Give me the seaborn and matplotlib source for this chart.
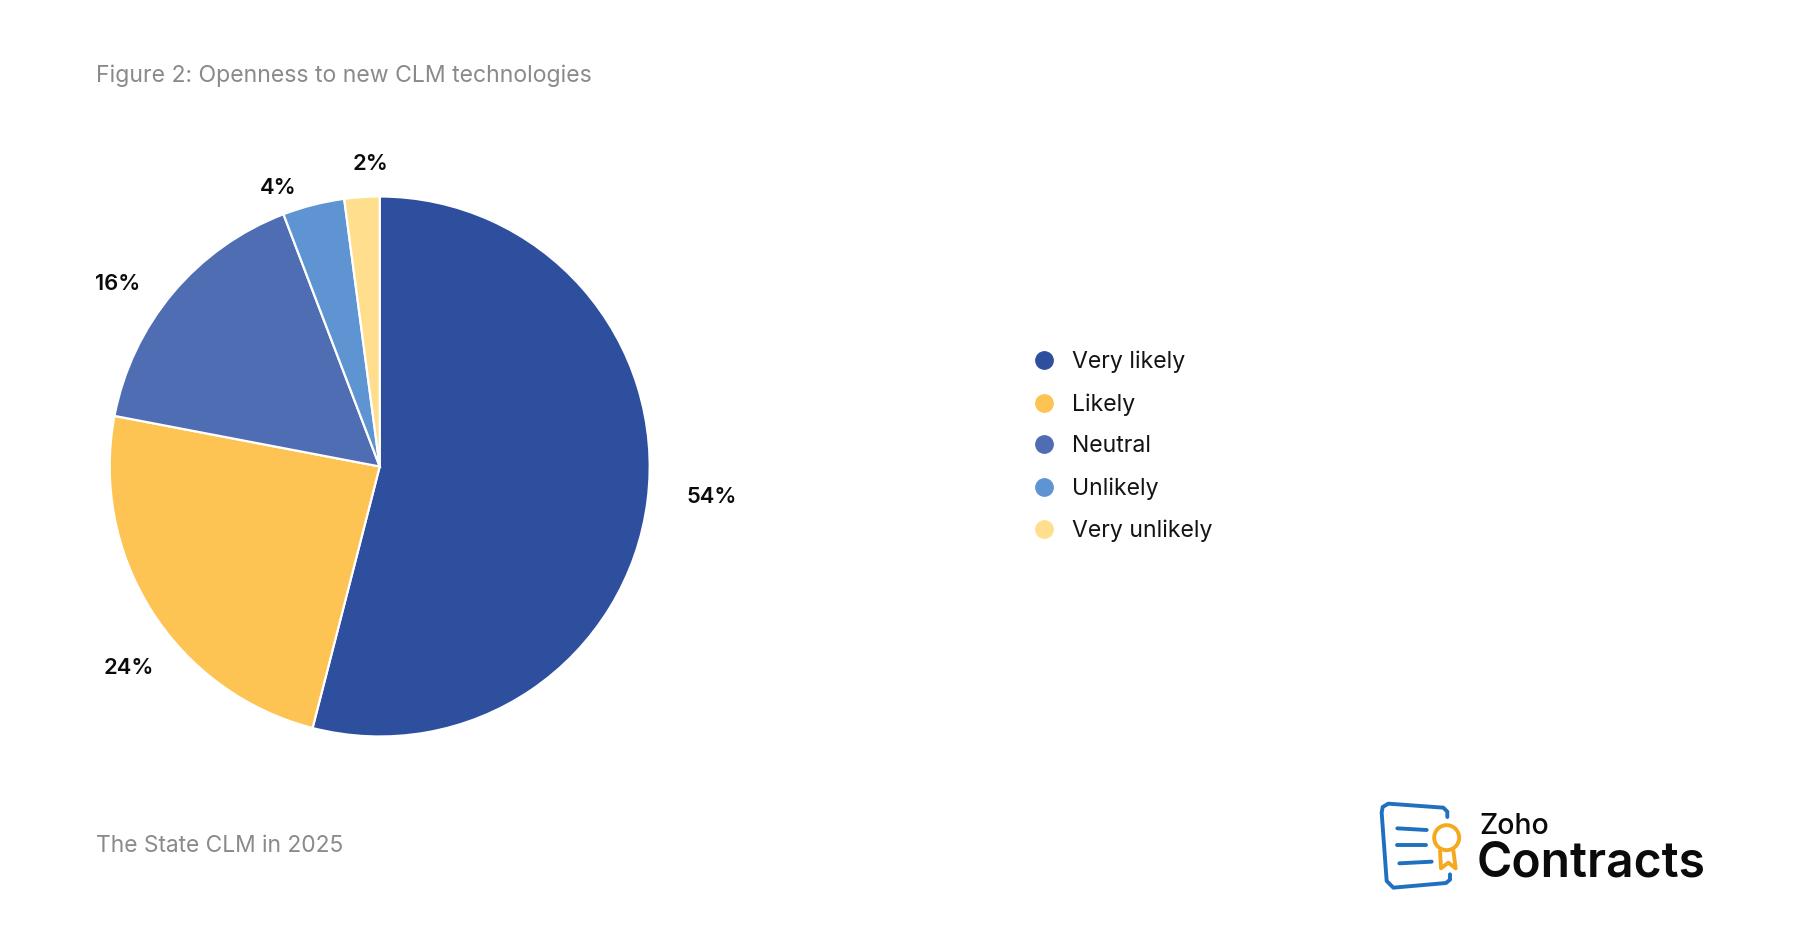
import matplotlib
matplotlib.use("Agg")
import matplotlib.pyplot as plt
from matplotlib.lines import Line2D
from matplotlib.patches import Circle
import seaborn as sns

categories = ["Very likely", "Likely", "Neutral", "Unlikely", "Very unlikely"]
values = [54, 24, 16.2, 3.7, 2.1]
palette = ["#2E4F9E", "#FDC353", "#4F6DB3", "#5E94D2", "#FFDF8E"]
title_text = "Figure 2: Openness to new CLM technologies"
footer_text = "The State CLM in 2025"

sns.set_theme(style="white")
plt.rcParams["font.family"] = ["Inter", "DejaVu Sans"]

W, H = 1798, 949
fig = plt.figure(figsize=(W / 100, H / 100), dpi=100, facecolor="white")

# Overlay in pixel coordinates for page furniture
page = fig.add_axes([0, 0, 1, 1], zorder=3)
page.set_xlim(0, W)
page.set_ylim(H, 0)
page.axis("off")
page.patch.set_alpha(0)

# Pie
cx, cy, R = 379.7, 466.5, 270
side = 640
ax = fig.add_axes([(cx - side / 2) / W, 1 - (cy + side / 2) / H, side / W, side / H])
wedges, _, pcts = ax.pie(
    values, colors=palette, startangle=90, counterclock=False,
    radius=1, autopct="%.0f%%",
    wedgeprops=dict(edgecolor="white", linewidth=1.6),
    textprops=dict(fontsize=15.8, fontweight="semibold", color="#0b0b0b"),
)
lim = side / (2 * R)
ax.set_xlim(-lim, lim)
ax.set_ylim(-lim, lim)
label_px = [(712, 497), (129, 668), (118, 284), (278, 188), (371, 164)]
for t, (px, py) in zip(pcts, label_px):
    t.set_transform(page.transData)
    t.set_position((px, py))
    t.set_ha("center")
    t.set_va("center")
    t.set_clip_on(False)
    t.set_zorder(5)

# Legend
handles = [Line2D([], [], ls="", marker="o", ms=12.5, mfc=c, mec=c) for c in palette]
leg = fig.legend(
    handles, categories, loc="center left",
    bbox_to_anchor=(1032 / W, 1 - 446.5 / H), frameon=False,
    fontsize=16.6, labelspacing=0.86, handletextpad=0.72, handlelength=1.0,
    labelcolor="#141414", borderpad=0, borderaxespad=0,
)

# Titles
page.text(96, 75.5, title_text, fontsize=16.6, color="#8a8a8a", ha="left", va="center")
page.text(96, 846.5, footer_text, fontsize=16.4, color="#8a8a8a", ha="left", va="center")

# Logo
ox, oy = 1360, 781
def z(pts):
    return [ox + p[0] / 3 for p in pts], [oy + p[1] / 3 for p in pts]
blue, orange = "#1F70BE", "#F6A91E"
kw = dict(solid_capstyle="round", solid_joinstyle="round")
page.plot(*z([(262, 108), (262, 92), (250, 80), (85, 68), (68, 78), (65, 95), (80, 300),
              (100, 320), (258, 306), (270, 296), (270, 280)]), color=blue, lw=2.8, **kw)
page.plot(*z([(112, 142), (200, 147)]), color=blue, lw=2.8, **kw)
page.plot(*z([(112, 193), (197, 193)]), color=blue, lw=2.8, **kw)
page.plot(*z([(118, 247), (215, 242)]), color=blue, lw=2.8, **kw)
page.add_patch(Circle((ox + 260 / 3, oy + 170 / 3), 12.5, fill=False, ec=orange, lw=2.8))
page.plot(*z([(240, 210), (243, 262), (265, 245), (287, 262), (280, 208)]), color=orange, lw=2.8, **kw)
page.text(ox + 358 / 3, oy + 158 / 3, "Zoho", fontsize=20.5, color="#0b0b0b", fontfamily="Inter",
          fontweight="medium", ha="left", va="baseline")
page.text(ox + 350 / 3, oy + 286 / 3, "Contracts", fontsize=34.6, color="#0b0b0b", fontfamily="Inter",
          fontweight="semibold", ha="left", va="baseline")

fig.savefig("out.png", dpi=100, facecolor="white")
